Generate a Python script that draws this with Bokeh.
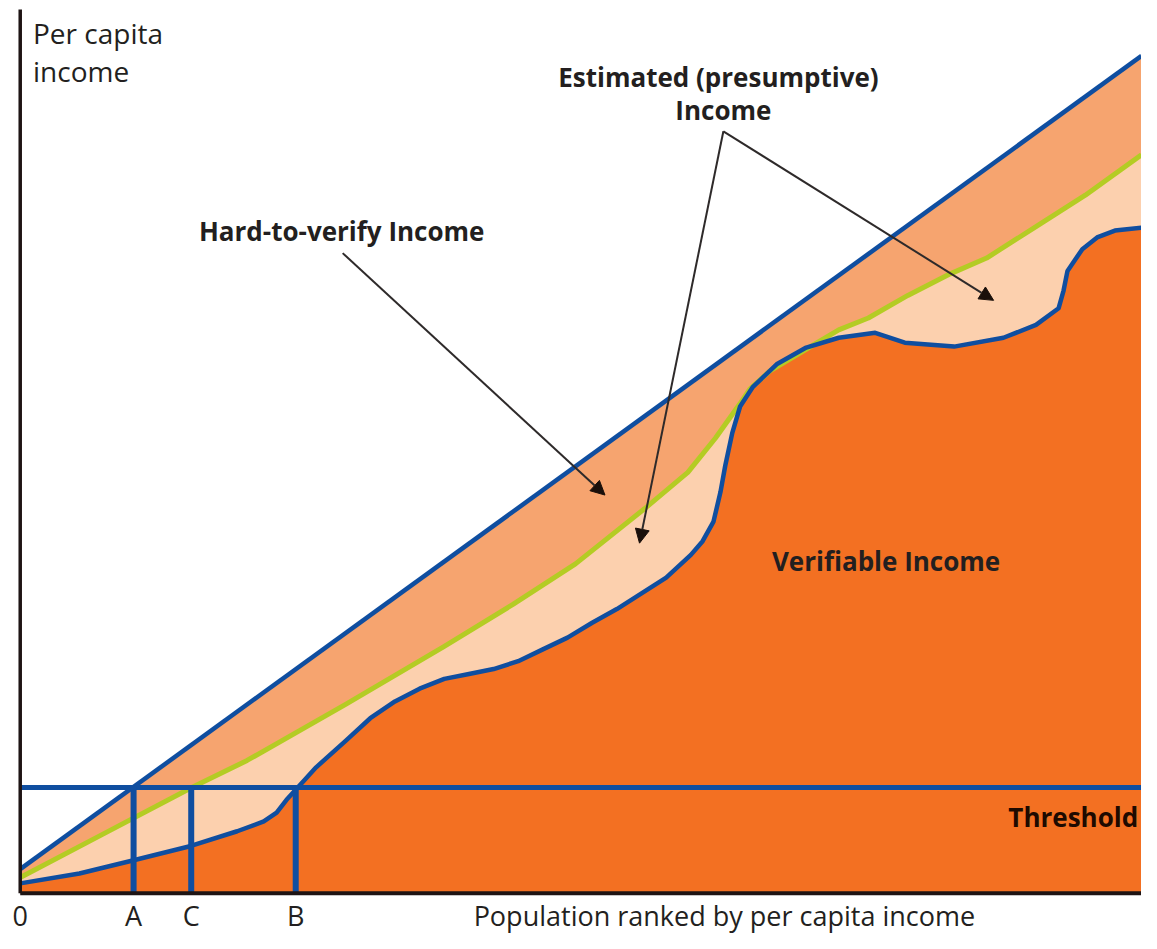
from bokeh.plotting import figure
from bokeh.models import Range1d, Arrow, NormalHead, ColumnDataSource
from bokeh.core.properties import value
from bokeh.embed import file_html
from bokeh.resources import INLINE

# ---------------- data (population rank 0-100, per-capita income index) ----------------
pop_total = [0.0, 100.0]
income_total = [2.7, 93.8]

pop_estimated = [0.0, 7.04, 15.39, 20.23, 29.02, 37.82, 43.98, 49.52, 55.67, 59.54,
                 62.01, 64.20, 65.08, 66.84, 69.75, 73.00, 75.64, 79.16, 82.94, 86.19,
                 90.59, 94.99, 100.0]
income_estimated = [1.76, 6.39, 11.89, 14.87, 21.15, 27.64, 32.38, 36.89, 43.06, 47.14,
                    50.99, 54.85, 56.50, 58.48, 60.68, 63.11, 64.43, 66.96, 69.38, 71.15,
                    74.67, 78.19, 82.71]

pop_verifiable = [0.0, 5.28, 9.94, 15.22, 19.35, 21.72, 22.87, 23.75, 24.63, 26.39,
                  29.02, 31.22, 33.42, 35.62, 37.82, 40.02, 42.22, 44.41, 46.61, 48.81,
                  51.01, 53.21, 55.41, 57.61, 59.81, 60.86, 61.83, 62.45, 62.88, 63.50,
                  64.20, 65.35, 67.46, 70.10, 73.00, 76.25, 78.89, 83.29, 87.69, 90.59,
                  92.61, 93.05, 93.40, 94.72, 96.04, 97.63, 100.0]
income_verifiable = [1.10, 2.20, 3.63, 5.29, 6.94, 8.04, 9.03, 10.46, 11.67, 14.10,
                     17.07, 19.60, 21.48, 22.91, 24.01, 24.56, 25.11, 25.99, 27.31, 28.63,
                     30.29, 31.83, 33.59, 35.35, 37.90, 39.43, 41.63, 44.93, 47.91, 51.54,
                     54.52, 56.72, 59.25, 61.12, 62.22, 62.78, 61.67, 61.23, 62.22, 63.66,
                     65.53, 67.51, 69.71, 72.14, 73.46, 74.23, 74.56]

threshold = 11.84
tick_pos = [0.0, 10.11, 15.25, 24.57]
tick_labels = ["0", "A", "C", "B"]

# ---------------- styles ----------------
C_MED = "#F6A46F"
C_PEACH = "#FCD0AE"
C_DARK = "#F37022"
C_BLUE = "#0F4EA0"
C_GREEN = "#B4CC24"
C_AXIS = "#1E1414"
C_TEXT = "#231F20"
FONT = value("Open Sans")
DY = 1.12  # baseline compensation for svg text

p = figure(width=1141, height=933,
           x_range=Range1d(-1.759, 100.0),
           y_range=Range1d(-4.515, 100.0),
           output_backend="svg", toolbar_location=None,
           x_axis_location=None, y_axis_location=None, min_border=0)
p.grid.visible = False
p.outline_line_color = None
p.background_fill_color = "white"
p.border_fill_color = "white"

# filled bands
p.varea(x=pop_total, y1=[0] * len(pop_total), y2=income_total, fill_color=C_MED)
p.varea(x=pop_estimated, y1=[0] * len(pop_estimated), y2=income_estimated, fill_color=C_PEACH)
p.varea(x=pop_verifiable, y1=[0] * len(pop_verifiable), y2=income_verifiable, fill_color=C_DARK)

# curves
p.line(pop_total, income_total, line_color=C_BLUE, line_width=4.5)
p.line(pop_estimated, income_estimated, line_color=C_GREEN, line_width=5, line_join="round")
p.line(pop_verifiable, income_verifiable, line_color=C_BLUE, line_width=4.5, line_join="round")

# threshold and A/C/B markers
p.segment(x0=[0], y0=[threshold], x1=[pop_total[-1]], y1=[threshold], line_color=C_BLUE, line_width=5)
p.segment(x0=tick_pos[1:], y0=[0] * 3, x1=tick_pos[1:], y1=[threshold] * 3,
          line_color=C_BLUE, line_width=6)

# axes
p.segment(x0=[0], y0=[0], x1=[0], y1=[99.0], line_color=C_AXIS, line_width=3.5)
p.segment(x0=[0], y0=[0], x1=[pop_total[-1]], y1=[0], line_color=C_AXIS, line_width=4)

# tick labels
p.text(x=tick_pos, y=[-2.5] * 4, text=tick_labels, text_font=FONT, text_font_size="27px",
       text_align="center", text_baseline="alphabetic", text_color=C_TEXT)

# plain labels
plain = ColumnDataSource(dict(
    x=[1.14, 1.14],
    y=[95.26 + DY, 90.97 + DY],
    t=["Per capita", "income"]))
p.text(x="x", y="y", text="t", source=plain, text_font=FONT, text_font_size="28px",
       text_align="left", text_baseline="alphabetic", text_color=C_TEXT)
p.text(x=[62.8], y=[-2.5], text=["Population ranked by per capita income"], text_font=FONT,
       text_font_size="27px", text_align="center", text_baseline="alphabetic", text_color=C_TEXT)

# bold labels
bold = ColumnDataSource(dict(
    x=[62.27, 62.71, 28.67, 77.22],
    y=[90.31 + DY, 86.56 + DY, 73.02 + DY, 36.12 + DY],
    t=["Estimated (presumptive)", "Income", "Hard-to-verify Income", "Verifiable Income"]))
p.text(x="x", y="y", text="t", source=bold, text_font=FONT, text_font_size="26px",
       text_font_style="bold", text_align="center", text_baseline="alphabetic", text_color=C_TEXT)
p.text(x=[99.7], y=[7.41 + DY], text=["Threshold"], text_font=FONT, text_font_size="26px",
       text_font_style="bold", text_align="right", text_baseline="alphabetic", text_color="#1E0A00")

# arrows
arrows = [((28.76, 71.70), (52.15, 44.60)),
          ((62.71, 85.35), (55.23, 39.21)),
          ((62.71, 85.35), (86.81, 66.41))]
for (xs, ys), (xe, ye) in arrows:
    p.add_layout(Arrow(end=NormalHead(size=14, fill_color="#1A0F0A", line_color="#1A0F0A"),
                       x_start=xs, y_start=ys, x_end=xe, y_end=ye,
                       line_color="#2E2A2A", line_width=2))

open("out.html", "w").write(file_html(p, INLINE))
